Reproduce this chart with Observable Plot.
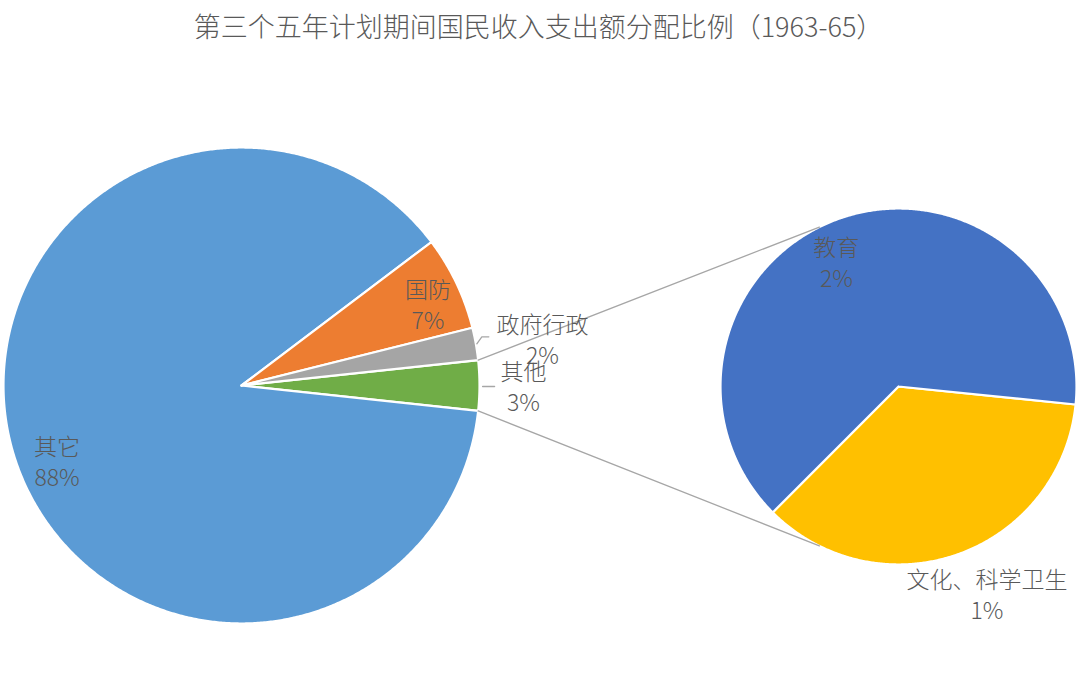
<!DOCTYPE html>
<html><head><meta charset="utf-8">
<script src="https://cdn.jsdelivr.net/npm/d3@7"></script>
<script src="https://cdn.jsdelivr.net/npm/@observablehq/plot@0.6"></script>
<style>body{margin:0;background:#fff}</style>
</head><body><div id="chart"></div>
<script>
// ---- data ----
const title = "第三个五年计划期间国民收入支出额分配比例（1963-65）";
// main pie, clockwise starting from the split-out slice
const mainNames  = ["其他", "其它", "国防", "政府行政"];
const mainValues = [3.4, 88.0, 6.4, 2.2];
const mainLabels = ["3%", "88%", "7%", "2%"];
const mainColors = ["#70AD47", "#5B9BD5", "#ED7D31", "#A5A5A5"];
// secondary pie (breakdown of 其他), clockwise
const subNames  = ["文化、科学卫生", "教育"];
const subValues = [1.22, 2.18];
const subLabels = ["1%", "2%"];
const subColors = ["#FFC000", "#4472C4"];

// ---- layout ----
const W = 1080, H = 689;
const LP = {cx: 241, cy: 385, r: 238};
const RP = {cx: 898, cy: 386, r: 178};
const deg = Math.PI / 180;
const textColor = "#595959";
const font = "'Noto Sans CJK SC', 'Noto Sans', sans-serif";

// screen angle (clockwise from 3 o'clock) -> point
const pt = (p, a, k = 1) => ({x: p.cx + p.r * k * Math.cos(a), y: p.cy + p.r * k * Math.sin(a)});

function pieArcs(values, startScreen) {
  const total = d3.sum(values);
  let a = startScreen;
  return values.map(v => {
    const a0 = a, a1 = a + v / total * 2 * Math.PI;
    a = a1;
    return {a0, a1, mid: (a0 + a1) / 2};
  });
}
function polys(p, names, arcs, prefix) {
  const out = [];
  arcs.forEach((arc, i) => {
    const key = prefix + i;
    out.push({key, name: names[i], ...pt(p, 0, 0)});
    const n = Math.max(2, Math.ceil((arc.a1 - arc.a0) / (0.4 * deg)));
    for (let j = 0; j <= n; j++) {
      out.push({key, name: names[i], ...pt(p, arc.a0 + (arc.a1 - arc.a0) * j / n)});
    }
    out.push({key, name: names[i], ...pt(p, 0, 0)});
  });
  return out;
}

// main pie: split-out slice centred on 3 o'clock
const gSweep = mainValues[0] / d3.sum(mainValues) * 2 * Math.PI;
const mainArcs = pieArcs(mainValues, -gSweep / 2);
const subArcs = pieArcs(subValues, 5.8 * deg);

const slicePts = [...polys(LP, mainNames, mainArcs, "m"), ...polys(RP, subNames, subArcs, "s")];

// connector lines from the split-out slice to the secondary pie
const connAng = 116.4 * deg;
const connectors = [
  {k: "top", ...pt(LP, mainArcs[0].a0)}, {k: "top", ...pt(RP, -connAng)},
  {k: "bot", ...pt(LP, mainArcs[0].a1)}, {k: "bot", ...pt(RP, connAng)}
];
// leader lines for outside labels
const gEdge = pt(LP, mainArcs[3].mid, 1.0);
const oEdge = pt(LP, mainArcs[0].mid, 1.013);
const leaders = [
  {k: "g", x: gEdge.x + 1, y: gEdge.y}, {k: "g", x: gEdge.x + 6, y: gEdge.y - 7}, {k: "g", x: gEdge.x + 13, y: gEdge.y - 7},
  {k: "o", x: oEdge.x, y: oEdge.y + 1}, {k: "o", x: oEdge.x + 12, y: oEdge.y + 1}
];

// label placement: [pie, arc, radial factor, angle offset (deg)]
const labelPlace = [
  [LP, mainArcs[0], 1.185, 0.0],
  [LP, mainArcs[1], 0.836, -6.6],
  [LP, mainArcs[2], 0.855, 1.9],
  [LP, mainArcs[3], 1.28, 1.2],
  [RP, subArcs[0], 1.265, -3.5],
  [RP, subArcs[1], 0.785, -6.8]
];
const allNames = [...mainNames, ...subNames];
const allPct = [...mainLabels, ...subLabels];
const labels = labelPlace.map(([p, arc, k, off], i) => ({
  ...pt(p, arc.mid + off * deg, k), text: allNames[i] + "\n" + allPct[i]
}));

const chart = Plot.plot({
  width: W, height: H, margin: 0,
  x: {domain: [0, W], range: [0, W], axis: null},
  y: {domain: [0, H], range: [0, H], axis: null},
  color: {domain: allNames, range: [...mainColors, ...subColors]},
  style: {fontFamily: font, background: "#fff"},
  marks: [
    Plot.line(slicePts, {x: "x", y: "y", z: "key", fill: "name", stroke: "white", strokeWidth: 2.2, strokeLinejoin: "round"}),
    Plot.line(connectors, {x: "x", y: "y", z: "k", stroke: "#A6A6A6", strokeWidth: 1.3}),
    Plot.line(leaders, {x: "x", y: "y", z: "k", stroke: "#A6A6A6", strokeWidth: 1.3}),
    Plot.text(labels, {x: "x", y: "y", text: "text", fontSize: 23, fontWeight: 300, lineHeight: 1.36, fill: textColor, fontFamily: font}),
    Plot.text([{x: W / 2 - 2, y: 28, text: title}], {x: "x", y: "y", text: "text", fontSize: 27, fontWeight: 300, fill: textColor, fontFamily: font})
  ]
});
document.getElementById("chart").appendChild(chart);
</script>
</body></html>
